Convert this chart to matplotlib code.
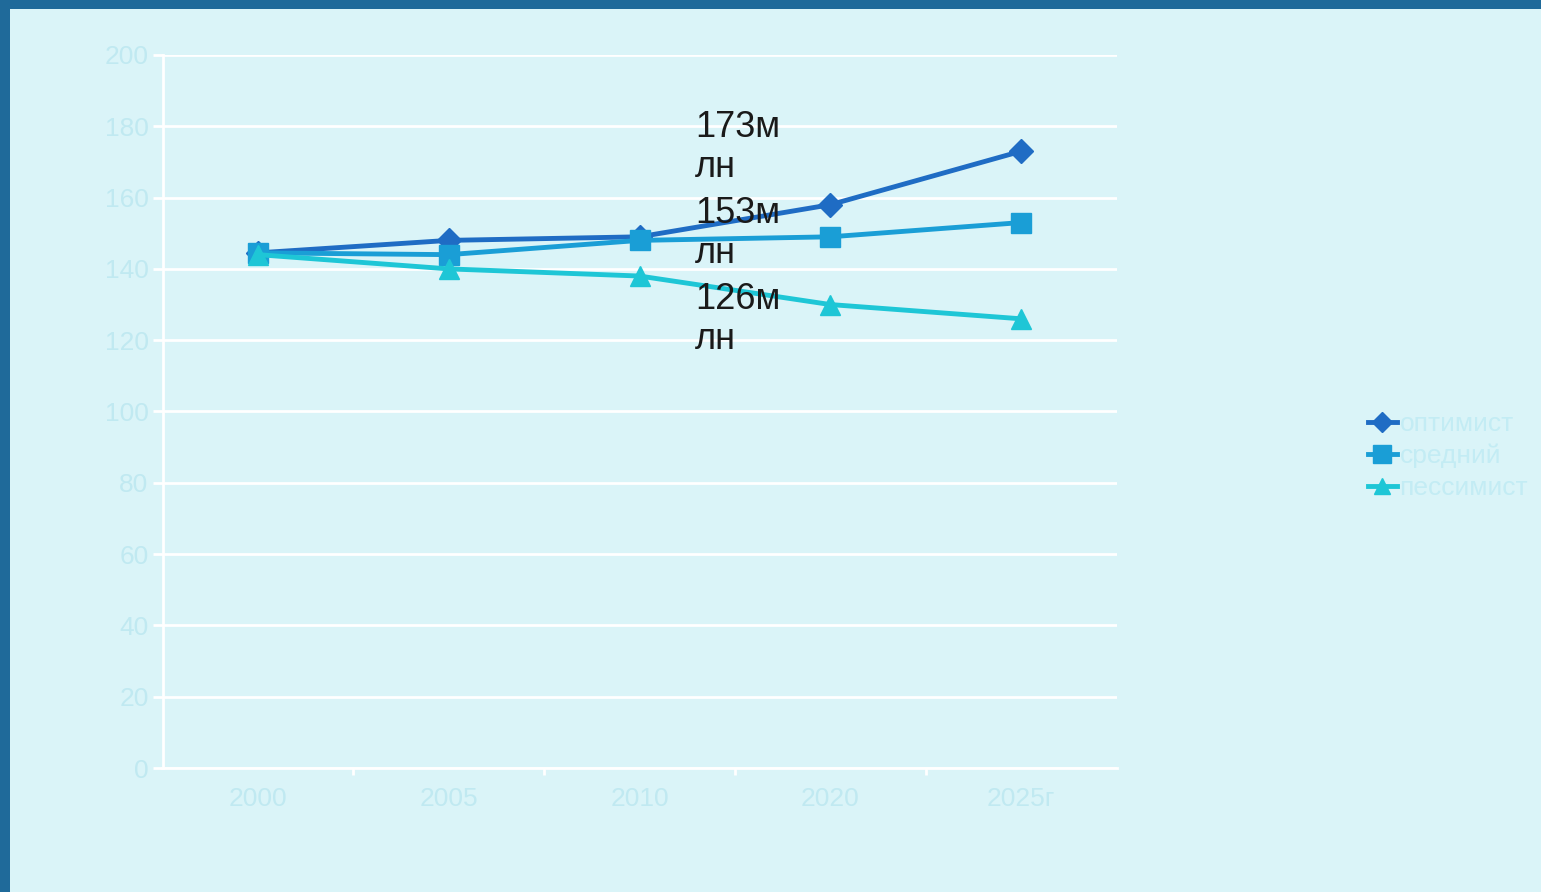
import matplotlib.pyplot as plt
import numpy as np
from matplotlib.patches import Rectangle
from matplotlib.lines import Line2D

# data
years = ['2000', '2005', '2010', '2020', '2025г']
optimist = [144.5, 148, 149, 158, 173]
medium = [144.5, 144, 148, 149, 153]
pessimist = [144, 140, 138, 130, 126]
series_names = ['оптимист', 'средний', 'пессимист']
notes = ['173м\nлн', '153м\nлн', '126м\nлн']
yticks = list(range(0, 201, 20))

W, H = 1541, 892
fig = plt.figure(figsize=(W / 100, H / 100), dpi=100)
fig.patch.set_facecolor('#1f6a9a')

# light slide area inside the dark frame
fig.patches.append(Rectangle((10 / W, 0), 1 - 10 / W, (H - 9) / H,
                             transform=fig.transFigure, facecolor='#daf4f8',
                             edgecolor='none', zorder=-10))

ax = fig.add_axes([162.5 / W, 124 / H, 954 / W, 713 / H])
ax.patch.set_alpha(0)

x = np.arange(len(years))
colors = ['#1f6cc4', '#1a9ed6', '#1ec6d6']
markers = ['D', 's', '^']
msizes = [12, 15, 14]
for vals, c, m, ms in zip([optimist, medium, pessimist], colors, markers, msizes):
    ax.plot(x, vals, color=c, lw=3.5, marker=m, ms=ms, mec=c, mfc=c, zorder=3)

ax.set_xlim(-0.5, 4.5)
ax.set_ylim(0, 200)
ax.set_yticks(yticks)
ax.set_yticklabels([str(v) for v in yticks])
ax.set_xticks(x)
ax.set_xticklabels(years)
ax.set_xticks(np.arange(0.5, 4, 1), minor=True)
ax.yaxis.grid(True, color='white', lw=2)
ax.set_axisbelow(True)
for s in ['top', 'right']:
    ax.spines[s].set_visible(False)
for s in ['left', 'bottom']:
    ax.spines[s].set_color('white')
    ax.spines[s].set_linewidth(2)
ax.tick_params(axis='y', colors='white', length=7, width=2, pad=3,
               labelsize=19, labelcolor='#c0e9f1')
ax.tick_params(axis='x', which='major', length=0, pad=14,
               labelsize=19, labelcolor='#c0e9f1')
ax.tick_params(axis='x', which='minor', colors='white', length=5, width=2)
for lab in ax.get_xticklabels() + ax.get_yticklabels():
    lab.set_fontfamily('Liberation Sans')

# value notes
for i, t in enumerate(notes):
    fig.text(695 / W, 1 - (110 + i * 86) / H, t, fontsize=26, color='#1a1a1a',
             family='Liberation Sans', va='top', ha='left', linespacing=1.2)

handles = [Line2D([], [], color=c, lw=3.5, marker=m, ms=ms * 0.85, mec=c, mfc=c)
           for c, m, ms in zip(colors, markers, msizes)]
leg = fig.legend(handles, series_names, loc='center left',
                 bbox_to_anchor=(1344 / W, 1 - 456 / H), frameon=False,
                 handlelength=1.1, handletextpad=0.1, labelspacing=0.3,
                 prop={'family': 'Liberation Sans', 'size': 19})
for t in leg.get_texts():
    t.set_color('#c3ecf4')

fig.savefig('out.png', dpi=100, facecolor=fig.get_facecolor())
